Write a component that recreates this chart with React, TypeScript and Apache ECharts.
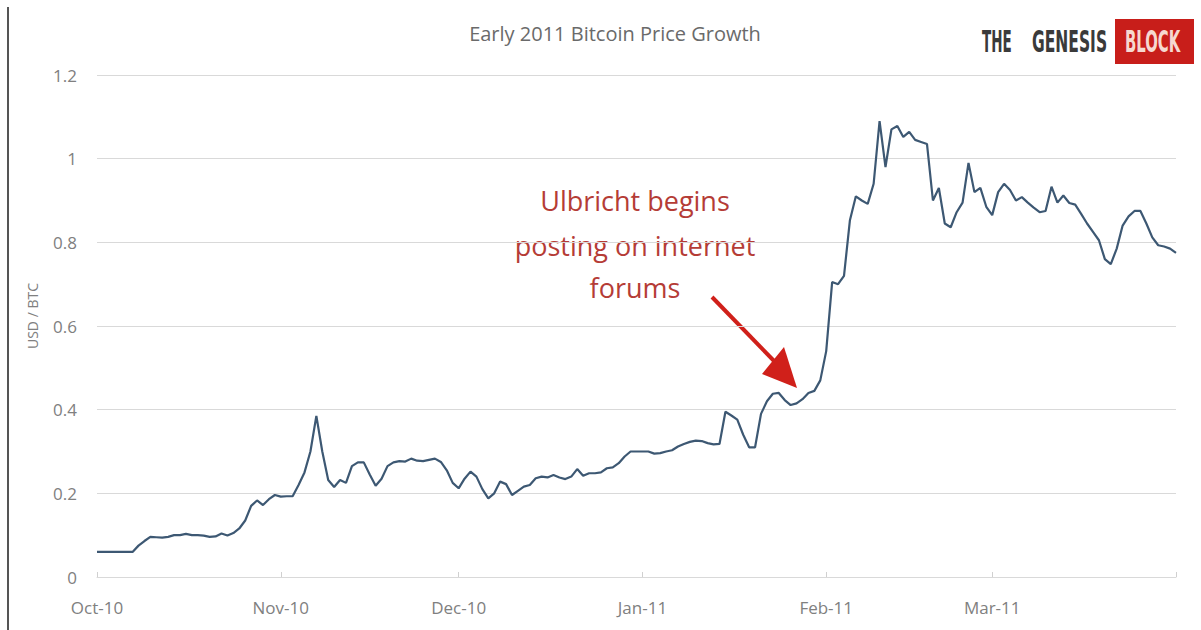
import React, { useEffect, useRef } from "react";
import * as echarts from "echarts";

const titleText = "Early 2011 Bitcoin Price Growth";
const yAxisName = "USD / BTC";
const startDate = [2010, 9, 1]; // Oct 1, 2010 (month 0-based)
const monthLabels: Record<string, string> = {
  "2010-10": "Oct-10",
  "2010-11": "Nov-10",
  "2010-12": "Dec-10",
  "2011-01": "Jan-11",
  "2011-02": "Feb-11",
  "2011-03": "Mar-11",
  "2011-04": "",
};
const yTicks = [0, 0.2, 0.4, 0.6, 0.8, 1, 1.2];
const annotationLines = ["Ulbricht begins", "posting on internet", "forums"];

// daily USD/BTC, Oct 1 2010 .. Apr 1 2011
const prices = [
  0.06, 0.06, 0.06, 0.06, 0.06, 0.06, 0.06, 0.075, 0.086, 0.096,
  0.095, 0.094, 0.096, 0.1, 0.1, 0.103, 0.1, 0.1, 0.099, 0.096,
  0.097, 0.104, 0.099, 0.105, 0.116, 0.135, 0.17, 0.183, 0.172, 0.186,
  0.196, 0.192, 0.193, 0.193, 0.22, 0.25, 0.3, 0.385, 0.3, 0.232,
  0.215, 0.232, 0.225, 0.265, 0.274, 0.274, 0.245, 0.218, 0.235, 0.265,
  0.274, 0.277, 0.276, 0.283, 0.278, 0.277, 0.28, 0.283, 0.275, 0.255,
  0.225, 0.212, 0.235, 0.252, 0.24, 0.21, 0.188, 0.2, 0.228, 0.222,
  0.196, 0.206, 0.216, 0.22, 0.236, 0.24, 0.238, 0.244, 0.238, 0.234,
  0.24, 0.258, 0.242, 0.248, 0.248, 0.25, 0.26, 0.262, 0.272, 0.288,
  0.3, 0.3, 0.3, 0.3, 0.295, 0.296, 0.3, 0.303, 0.312, 0.318,
  0.323, 0.326, 0.325, 0.32, 0.317, 0.318, 0.395, 0.386, 0.376, 0.34,
  0.31, 0.31, 0.39, 0.42, 0.438, 0.44, 0.423, 0.411, 0.415, 0.425,
  0.44, 0.445, 0.47, 0.54, 0.705, 0.7, 0.72, 0.853, 0.91, 0.9,
  0.892, 0.94, 1.09, 0.98, 1.07, 1.078, 1.052, 1.064, 1.045, 1.04,
  1.035, 0.9, 0.93, 0.845, 0.836, 0.872, 0.895, 0.99, 0.92, 0.93,
  0.885, 0.865, 0.92, 0.94, 0.925, 0.9, 0.908, 0.895, 0.883, 0.872,
  0.875, 0.933, 0.895, 0.912, 0.894, 0.89, 0.868, 0.845, 0.825, 0.805,
  0.76, 0.748, 0.785, 0.84, 0.862, 0.875, 0.875, 0.845, 0.812, 0.793,
  0.79, 0.785, 0.775,
];

const pad = (n: number) => (n < 10 ? "0" + n : "" + n);
const dates: string[] = prices.map((_, i) => {
  const d = new Date(Date.UTC(startDate[0], startDate[1], startDate[2] + i));
  return `${d.getUTCFullYear()}-${pad(d.getUTCMonth() + 1)}-${pad(d.getUTCDate())}`;
});
const isMonthStart = (v: string) => v.slice(8) === "01";

export default function App() {
  const ref = useRef<HTMLDivElement>(null);
  useEffect(() => {
    if (!ref.current) return;
    const chart = echarts.init(ref.current, null, { renderer: "svg" });
    const font = "'Open Sans', 'DejaVu Sans', sans-serif";
    const logoFont = "'DejaVu Sans Condensed', 'DejaVu Sans', sans-serif";
    const logoText = (text: string, x: number, scaleX: number, fill: string) => ({
      type: "text",
      x,
      y: 42,
      scaleX,
      style: {
        text,
        fontFamily: logoFont,
        fontWeight: "bold",
        fontSize: 30,
        fill,
        textAlign: "left",
        textVerticalAlign: "middle",
      },
    });
    chart.setOption({
      animation: false,
      backgroundColor: "#ffffff",
      title: {
        text: titleText,
        left: 610,
        top: 18,
        textAlign: "center",
        textStyle: { fontFamily: font, fontSize: 20, fontWeight: "normal", color: "#6a6a6a" },
      },
      grid: { left: 97, right: 25, top: 75, bottom: 53, containLabel: false },
      xAxis: {
        type: "category",
        data: dates,
        boundaryGap: false,
        axisLine: { show: true, lineStyle: { color: "#d9d9d9", width: 1 } },
        axisTick: {
          show: true,
          interval: (_i: number, v: string) => isMonthStart(v),
          length: 5,
          inside: true,
          lineStyle: { color: "#d0d0d0" },
        },
        axisLabel: {
          interval: (_i: number, v: string) => isMonthStart(v),
          formatter: (v: string) => monthLabels[v.slice(0, 7)] ?? "",
          margin: 22,
          fontFamily: font,
          fontSize: 17,
          color: "#808080",
        },
        splitLine: { show: false },
      },
      yAxis: {
        type: "value",
        min: yTicks[0],
        max: yTicks[yTicks.length - 1],
        interval: 0.2,
        name: yAxisName,
        nameLocation: "middle",
        nameGap: 58,
        nameTextStyle: { fontFamily: font, fontSize: 14, color: "#808080", padding: [0, 0, 0, 20] },
        axisLine: { show: false },
        axisTick: { show: false },
        axisLabel: {
          margin: 20,
          fontFamily: font,
          fontSize: 17,
          color: "#808080",
          formatter: (v: number) => String(Math.round(v * 10) / 10),
        },
        splitLine: { show: true, lineStyle: { color: "#d9d9d9", width: 1 } },
      },
      series: [
        {
          type: "line",
          data: prices,
          symbol: "none",
          lineStyle: { color: "#3d5873", width: 2.2 },
        },
      ],
      graphic: [
        { type: "line", shape: { x1: 8, y1: 7, x2: 8, y2: 630 }, style: { stroke: "#555555", lineWidth: 2 } },
        logoText("THE", 982, 0.5, "#3a3a3a"),
        logoText("GENESIS", 1032, 0.575, "#3a3a3a"),
        { type: "rect", shape: { x: 1115, y: 19, width: 79, height: 45 }, style: { fill: "#c81e1a" } },
        logoText("BLOCK", 1125, 0.55, "#f6d8d0"),
        ...annotationLines.map((t, i) => ({
          type: "text",
          x: 635,
          y: [200, 245, 287][i],
          style: {
            text: t,
            fontFamily: font,
            fontSize: 27,
            fill: "#b53c36",
            textAlign: "center",
            textVerticalAlign: "middle",
          },
        })),
        { type: "line", shape: { x1: 712, y1: 297, x2: 777, y2: 364 }, style: { stroke: "#d0201a", lineWidth: 4 } },
        { type: "polygon", shape: { points: [[797, 388], [762, 374], [784, 347]] }, style: { fill: "#d0201a" } },
      ],
    });
    return () => chart.dispose();
  }, []);
  return <div ref={ref} style={{ position: "fixed", left: 0, top: 0, width: 1201, height: 630 }} />;
}
